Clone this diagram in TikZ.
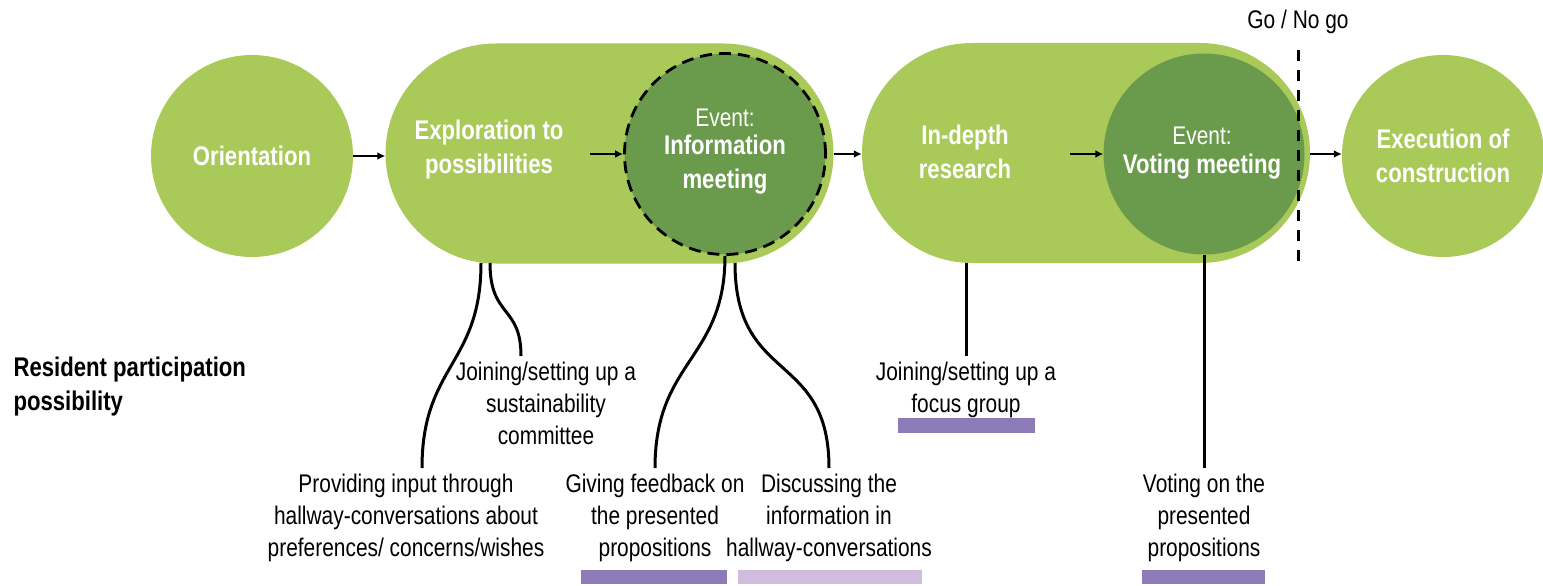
\documentclass[tikz,border=0pt]{standalone}
\usepackage{fontspec}
\setmainfont{Liberation Sans}[FakeStretch=0.82]
\usetikzlibrary{arrows.meta}
\definecolor{phasegreen}{RGB}{169,202,88}
\definecolor{eventgreen}{RGB}{106,154,75}
\definecolor{barpurple}{RGB}{141,123,183}
\definecolor{barlilac}{RGB}{208,188,221}

\begin{document}
\begin{tikzpicture}[x=1pt,y=-1pt,
  boldtxt/.style={font=\fontsize{27}{34}\selectfont\bfseries,align=center},
  plaintxt/.style={font=\fontsize{25.5}{32}\selectfont,align=center},
  phase/.style={circle,fill=phasegreen,minimum size=202pt,inner sep=0pt,text=white,boldtxt},
  event/.style={circle,fill=eventgreen,minimum size=201pt,inner sep=0pt},
  capsule/.style={fill=phasegreen,minimum width=448pt,minimum height=220pt,rounded corners=110pt,inner sep=0pt},
  option/.style={plaintxt,inner xsep=0pt,inner ysep=6pt,anchor=north},
  flow/.style={line width=2.5pt,-{Latex[length=8pt,width=8pt]}},
  link/.style={line width=3pt},
  bar/.style={fill=#1}]
\useasboundingbox (0,0) rectangle (1543,586);

% phases
\node[phase] (orient) at (252,156) {Orientation};
\node[capsule] (explore) at (609.5,153.5) {};
\node[event,draw=black,line width=2.8pt,dash pattern=on 12pt off 7pt] (info) at (725,154) {};
\node[capsule] (research) at (1086,153) {};
\node[event] (vote) at (1204,154) {};
\node[phase] (exec) at (1443,156) {Execution of\\construction};

\node[boldtxt,text=white] (exploretxt) at (489,150) {Exploration to\\possibilities};
\node[plaintxt,text=white] (infoev) at (725,118) {Event:};
\node[boldtxt,text=white,anchor=north] (infotxt) at (725,131) {Information\\meeting};
\node[boldtxt,text=white] (researchtxt) at (965,152) {In-depth\\research};
\node[plaintxt,text=white] (voteev) at (1202,136) {Event:};
\node[boldtxt,text=white,anchor=north] (votetxt) at (1202,150) {Voting meeting};

\draw[flow] (orient.east) -- (explore.west |- orient.east);
\draw[flow] ([xshift=-33pt]info.west) -- (info.west);
\draw[flow] (explore.east |- info.west) -- (research.west |- info.west);
\draw[flow] ([xshift=-33pt]vote.west) -- (vote.west);
\draw[flow] (research.east |- vote.west) -- (exec.west |- vote.west);

% go / no go
\node[plaintxt] (gonogo) at (1298,22) {Go / No go};
\coordinate (gtop) at (1298,50);
\coordinate (gbot) at (1298,262);
\draw[line width=3pt,dash pattern=on 11pt off 9pt] (gtop) -- (gbot);

% participation
\node[boldtxt,align=left,anchor=west] (resident) at (10,387) {Resident participation\\possibility};

\node[option] (provide) at (406,468) {Providing input through\\hallway-conversations about\\preferences/ concerns/wishes};
\node[option] (committee) at (546,356) {Joining/setting up a\\sustainability\\committee};
\node[option] (feedback) at (655,468) {Giving feedback on\\the presented\\propositions};
\node[option] (discuss) at (829,468) {Discussing the\\information in\\hallway-conversations};
\node[option] (focus) at (966,356) {Joining/setting up a\\focus group};
\node[option] (voting) at (1204,468) {Voting on the\\presented\\propositions};

\coordinate (e1) at (481,263);
\coordinate (e2) at (490,263);
\coordinate (e3) at (735,263);
\coordinate (r1) at (966,263);

\draw[link] (e1) .. controls (481,365) and (422,365) .. ([xshift=16pt]provide.north);
\draw[link] (e2) .. controls (490,318) and (521,305) .. ([xshift=-25pt]committee.north);
\draw[link] (info.south) .. controls (725,360) and (655,360) .. (feedback.north);
\draw[link] (e3) .. controls (735,385) and (829,350) .. (discuss.north);
\draw[link] (r1) -- (focus.north);
\draw[link] (vote.south) -- (voting.north);

\fill[bar=barpurple] (898,418) rectangle (1035,433);
\fill[bar=barpurple] (581,570) rectangle (727,584);
\fill[bar=barlilac] (738,570) rectangle (922,584);
\fill[bar=barpurple] (1142,570) rectangle (1265,584);
\end{tikzpicture}
\end{document}
